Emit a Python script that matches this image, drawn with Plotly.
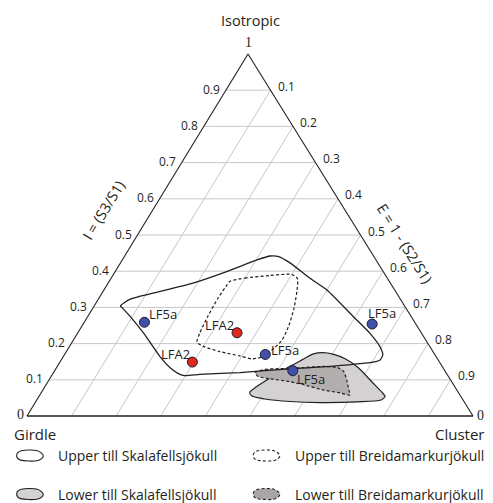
import plotly.graph_objects as go

# ---------------------------------------------------------------------------
# Data: fabric shape values, I = S3/S1 (isotropy) and E = 1 - S2/S1 (elongation)
# ---------------------------------------------------------------------------
site_labels = ["LF5a", "LFA2", "LFA2", "LF5a", "LF5a", "LF5a"]
site_I = [0.259, 0.230, 0.149, 0.170, 0.254, 0.125]
site_E = [0.135, 0.357, 0.297, 0.450, 0.648, 0.534]

# envelopes of the till units (closed outlines, I / E pairs)
upper_skala_I = [0.304, 0.322, 0.344, 0.367, 0.399, 0.431, 0.442, 0.441, 0.423, 0.381,
                 0.348, 0.275, 0.229, 0.192, 0.169, 0.155, 0.149, 0.138, 0.129, 0.120,
                 0.115, 0.112, 0.129, 0.164, 0.229, 0.276, 0.300]
upper_skala_E = [0.059, 0.071, 0.128, 0.190, 0.250, 0.302, 0.326, 0.344, 0.380, 0.445,
                 0.500, 0.595, 0.655, 0.696, 0.714, 0.715, 0.702, 0.618, 0.510, 0.418,
                 0.331, 0.294, 0.261, 0.217, 0.148, 0.094, 0.064]

upper_breida_I = [0.372, 0.381, 0.388, 0.391, 0.380, 0.348, 0.298, 0.251, 0.210, 0.182,
                  0.163, 0.158, 0.166, 0.178, 0.193, 0.204, 0.229, 0.276, 0.326, 0.362]
upper_breida_E = [0.271, 0.300, 0.352, 0.400, 0.418, 0.433, 0.451, 0.463, 0.468, 0.459,
                  0.446, 0.426, 0.395, 0.344, 0.299, 0.280, 0.274, 0.269, 0.267, 0.269]

lower_skala_I = [0.065, 0.080, 0.105, 0.130, 0.152, 0.171, 0.175, 0.171, 0.158, 0.134,
                 0.094, 0.066, 0.054, 0.044, 0.039, 0.037, 0.040, 0.047, 0.055]
lower_skala_E = [0.467, 0.474, 0.493, 0.514, 0.537, 0.556, 0.577, 0.601, 0.635, 0.676,
                 0.727, 0.763, 0.776, 0.772, 0.721, 0.639, 0.570, 0.510, 0.477]

lower_breida_I = [0.120, 0.129, 0.131, 0.134, 0.137, 0.134, 0.123, 0.099, 0.072, 0.058,
                  0.064, 0.072, 0.084, 0.095, 0.104, 0.109]
lower_breida_E = [0.452, 0.470, 0.513, 0.557, 0.596, 0.629, 0.649, 0.668, 0.686, 0.695,
                  0.670, 0.628, 0.586, 0.542, 0.487, 0.464]

grid_ticks = [0.1, 0.2, 0.3, 0.4, 0.5, 0.6, 0.7, 0.8, 0.9]
tick_text = ["0.1", "0.2", "0.3", "0.4", "0.5", "0.6", "0.7", "0.8", "0.9"]

legend_entries = ["Upper till Skalafellsjökull", "Upper till Breidamarkurjökull",
                  "Lower till Skalafellsjökull", "Lower till Breidamarkurjökull"]

# ---------------------------------------------------------------------------
# Layout geometry (screen pixels) and ternary -> cartesian projection
# ---------------------------------------------------------------------------
FIG_W, FIG_H = 493, 503
TRI_LEFT, TRI_RIGHT, TRI_BASE, TRI_TOP, TRI_APEX = 27, 473, 416, 54, 248
APEX_X = (TRI_APEX - TRI_LEFT) / (TRI_RIGHT - TRI_LEFT)
X_RANGE = [-TRI_LEFT / (TRI_RIGHT - TRI_LEFT), (FIG_W - TRI_LEFT) / (TRI_RIGHT - TRI_LEFT)]
Y_RANGE = [-(FIG_H - TRI_BASE) / (TRI_BASE - TRI_TOP), TRI_BASE / (TRI_BASE - TRI_TOP)]

FONT = "Open Sans"
INK = "#231f20"


def to_xy(I, E):
    """Girdle at (0,0), Cluster at (1,0), Isotropic apex at (APEX_X,1)."""
    return E + I * APEX_X, I


def proj(I_list, E_list, close=True):
    xs, ys = [], []
    for i, e in zip(I_list, E_list):
        x, y = to_xy(i, e)
        xs.append(x)
        ys.append(y)
    if close:
        xs.append(xs[0])
        ys.append(ys[0])
    return xs, ys


def paper(px, py):
    return px / FIG_W, 1 - py / FIG_H


fig = go.Figure()

# grid: lines of constant I (horizontal) and constant E (parallel to left edge)
gx, gy = [], []
for t in grid_ticks:
    for a, b in ((to_xy(t, 0), to_xy(t, 1 - t)), (to_xy(1 - t, t), to_xy(0, t))):
        gx += [a[0], b[0], None]
        gy += [a[1], b[1], None]
fig.add_trace(go.Scatter(x=gx, y=gy, mode="lines", line=dict(color="#c9c7c7", width=1),
                         hoverinfo="skip", showlegend=False))

# triangle frame
for (i0, e0), (i1, e1), w in (((0, 0), (1, 0), 1.1), ((1, 0), (0, 1), 1.1), ((0, 0), (0, 1), 1.6)):
    x0, y0 = to_xy(i0, e0)
    x1, y1 = to_xy(i1, e1)
    fig.add_trace(go.Scatter(x=[x0, x1], y=[y0, y1], mode="lines",
                             line=dict(color=INK, width=w), hoverinfo="skip", showlegend=False))

DOTTED = "3px,2.2px"

# envelopes
x, y = proj(lower_skala_I, lower_skala_E)
fig.add_trace(go.Scatter(x=x, y=y, mode="lines", fill="toself", fillcolor="#d3d1d1",
                         line=dict(color=INK, width=1.2, shape="spline", smoothing=0.7),
                         hoverinfo="skip", showlegend=False))
x, y = proj(lower_breida_I, lower_breida_E)
fig.add_trace(go.Scatter(x=x, y=y, mode="lines", fill="toself", fillcolor="#b2aeae",
                         line=dict(color=INK, width=1.2, dash=DOTTED, shape="spline", smoothing=0.6),
                         hoverinfo="skip", showlegend=False))
x, y = proj(upper_skala_I, upper_skala_E)
fig.add_trace(go.Scatter(x=x, y=y, mode="lines",
                         line=dict(color=INK, width=1.3, shape="spline", smoothing=0.6),
                         hoverinfo="skip", showlegend=False))
x, y = proj(upper_breida_I, upper_breida_E)
fig.add_trace(go.Scatter(x=x, y=y, mode="lines",
                         line=dict(color=INK, width=1.2, dash=DOTTED, shape="spline", smoothing=0.7),
                         hoverinfo="skip", showlegend=False))

# sample points
dot_colors = {"LF5a": "#4150a8", "LFA2": "#e2291d"}
px_, py_ = proj(site_I, site_E, close=False)
fig.add_trace(go.Scatter(x=px_, y=py_, mode="markers",
                         marker=dict(size=10, color=[dot_colors[s] for s in site_labels],
                                     line=dict(color="#1d1a30", width=1)),
                         hoverinfo="skip", showlegend=False))

annotations = []
# point labels (pixel offsets from each dot)
label_offsets = [(19, 8), (-18, 8), (-17, 8), (20, 4), (10, 11), (18, -8)]
for xx, yy, lab, (dx, dy) in zip(px_, py_, site_labels, label_offsets):
    annotations.append(dict(x=xx, y=yy, xref="x", yref="y", text=lab, showarrow=False,
                            xshift=dx, yshift=dy, font=dict(family=FONT, size=13, color=INK)))

# tick labels
for t, s in zip(grid_ticks, tick_text):
    lx, ly = to_xy(t, 0)
    annotations.append(dict(x=lx, y=ly, xref="x", yref="y", text=s, showarrow=False,
                            xanchor="right", xshift=-4, yshift=1,
                            font=dict(family=FONT, size=12, color=INK)))
    rx, ry = to_xy(1 - t, t)
    annotations.append(dict(x=rx, y=ry, xref="x", yref="y", text=s, showarrow=False,
                            xanchor="left", xshift=5, yshift=4,
                            font=dict(family=FONT, size=12, color=INK)))

serif = dict(family="Liberation Serif", size=14, color=INK)
ax_, ay_ = to_xy(1, 0)
annotations.append(dict(x=ax_, y=ay_, xref="x", yref="y", text="1", showarrow=False,
                        yanchor="bottom", yshift=2, font=serif))
annotations.append(dict(x=0, y=0, xref="x", yref="y", text="0", showarrow=False,
                        xanchor="right", xshift=-1, yshift=2, font=serif))
cx_, cy_ = to_xy(0, 1)
annotations.append(dict(x=cx_, y=cy_, xref="x", yref="y", text="0", showarrow=False,
                        xanchor="left", xshift=2, yshift=1, font=serif))

# corner and axis titles
title_font = dict(family=FONT, size=14.5, color=INK)
for text, (tx, ty), ang in (("Isotropic", (250, 21), 0),
                            ("I = (S3/S1)", (103, 210), -58.6),
                            ("E = 1 - (S2/S1)", (405, 243), 58.1)):
    xp, yp = paper(tx, ty)
    annotations.append(dict(x=xp, y=yp, xref="paper", yref="paper", text=text, showarrow=False,
                            textangle=ang, xanchor="center", yanchor="middle", font=title_font))

corner_font = dict(family=FONT, size=15, color=INK)
xp, yp = paper(12, 434)
annotations.append(dict(x=xp, y=yp, xref="paper", yref="paper", text="Girdle", showarrow=False,
                        xanchor="left", yanchor="middle", font=corner_font))
xp, yp = paper(486, 434)
annotations.append(dict(x=xp, y=yp, xref="paper", yref="paper", text="Cluster", showarrow=False,
                        xanchor="right", yanchor="middle", font=corner_font))

# legend: glyph blobs + labels
BLOB = [(-13.3, -0.5), (-8.5, -4.8), (6.5, -5.0), (13.3, 0.3), (7.0, 5.2), (-9.5, 4.6)]


def blob_path(cx, cy, scale=1.0):
    pts = [paper(cx + dx * scale, cy + dy * scale) for dx, dy in BLOB]
    n = len(pts)
    d = "M {:.5f},{:.5f} ".format(*pts[0])
    for i in range(n):
        p0, p1, p2, p3 = pts[i - 1], pts[i], pts[(i + 1) % n], pts[(i + 2) % n]
        c1 = (p1[0] + (p2[0] - p0[0]) / 6, p1[1] + (p2[1] - p0[1]) / 6)
        c2 = (p2[0] - (p3[0] - p1[0]) / 6, p2[1] - (p3[1] - p1[1]) / 6)
        d += "C {:.5f},{:.5f} {:.5f},{:.5f} {:.5f},{:.5f} ".format(*c1, *c2, *p2)
    return d + "Z"


shapes = []
legend_slots = [((30, 455.5), None, "solid"), ((266.5, 455.5), None, "dot"),
                ((30, 494), "#d3d1d1", "solid"), ((266.5, 494), "#a9a5a5", "dot")]
legend_font = dict(family=FONT, size=14, color=INK)
for ((cx, cy), fill, dash), name in zip(legend_slots, legend_entries):
    shapes.append(dict(type="path", xref="paper", yref="paper", path=blob_path(cx, cy),
                       fillcolor=fill if fill else "rgba(0,0,0,0)",
                       line=dict(color=INK, width=1.1, dash=DOTTED if dash == "dot" else "solid")))
    xp, yp = paper(cx + 27, cy)
    annotations.append(dict(x=xp, y=yp, xref="paper", yref="paper", text=name, showarrow=False,
                            xanchor="left", yanchor="middle", borderpad=0, font=legend_font))

fig.update_layout(
    width=FIG_W, height=FIG_H, autosize=False,
    margin=dict(l=0, r=0, t=0, b=0),
    paper_bgcolor="white", plot_bgcolor="white",
    xaxis=dict(range=X_RANGE, visible=False, fixedrange=True),
    yaxis=dict(range=Y_RANGE, visible=False, fixedrange=True),
    annotations=annotations, shapes=shapes, showlegend=False,
)

fig.write_html("out.html")
